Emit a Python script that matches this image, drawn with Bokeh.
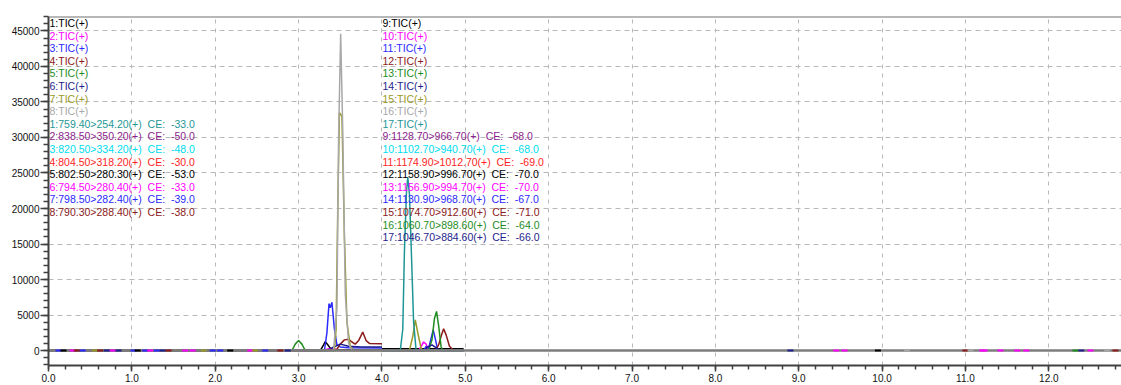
from bokeh.plotting import figure
from bokeh.models import ColumnDataSource, LabelSet, Label, FixedTicker, PrintfTickFormatter, Span
from bokeh.core.properties import value
from bokeh.embed import file_html
from bokeh.resources import INLINE

# ---------------- data ----------------
palette = ["#000000", "#ff00ff", "#2a2aff", "#8b1a1a", "#1e8c1e", "#1e1e8c",
           "#9a9a28", "#a8a8a8", "#1e9696", "#8c1e8c", "#00dcf0", "#ff1e1e"]

group_sizes = [8, 9]
tic_labels = ["%d:TIC(+)" % i for i in range(1, 18)]
mrm_q1 = [759.40, 838.50, 820.50, 804.50, 802.50, 794.50, 798.50, 790.30,
          1128.70, 1102.70, 1174.90, 1158.90, 1156.90, 1130.90, 1074.70, 1060.70, 1046.70]
mrm_q3 = [254.20, 350.20, 334.20, 318.20, 280.30, 280.40, 282.40, 288.40,
          966.70, 940.70, 1012.70, 996.70, 994.70, 968.70, 912.60, 898.60, 884.60]
mrm_ce = [-33.0, -50.0, -48.0, -30.0, -53.0, -33.0, -39.0, -38.0,
          -68.0, -68.0, -69.0, -70.0, -70.0, -67.0, -71.0, -64.0, -66.0]

# retention time (min) / intensity vertices of each trace
trace_t = [
    [0.0, 3.26, 3.30, 3.32, 3.35, 3.39, 3.45, 4.0],
    [0.0, 3.30, 3.36, 3.42, 3.48, 4.0],
    [0.0, 3.31, 3.34, 3.365, 3.38, 3.40, 3.43, 3.46, 3.50, 3.60, 4.0],
    [0.0, 3.45, 3.50, 3.55, 3.60, 3.64, 3.68, 3.72, 3.77, 3.81, 3.85, 4.0],
    [0.0, 2.92, 2.96, 3.00, 3.04, 3.08, 4.0],
    [0.0, 3.35, 3.42, 3.50, 3.60, 3.75, 4.0],
    [0.0, 3.43, 3.45, 3.47, 3.49, 3.52, 3.55, 3.58, 3.62, 3.66, 4.0],
    [0.0, 3.42, 3.46, 3.48, 3.505, 3.53, 3.56, 3.60, 3.64, 4.0],
    [4.0, 4.98],
    [4.0, 4.44, 4.47, 4.50, 4.53, 4.56, 4.98],
    [4.0, 4.50, 4.53, 4.56, 4.585, 4.615, 4.645, 4.67, 4.98],
    [4.0, 4.64, 4.68, 4.715, 4.74, 4.77, 4.81, 4.85, 4.95, 4.98],
    [4.0, 4.56, 4.60, 4.63, 4.655, 4.68, 4.71, 4.73, 4.98],
    [4.0, 4.50, 4.55, 4.60, 4.66, 4.70, 4.98],
    [4.0, 4.33, 4.37, 4.40, 4.43, 4.47, 4.49, 4.98],
    [4.0, 4.98],
    [4.0, 4.22, 4.25, 4.27, 4.295, 4.31, 4.33, 4.35, 4.38, 4.41, 4.98],
]
trace_y = [
    [0, 0, 800, 1250, 800, 200, 100, 100],
    [0, 0, 250, 300, 0, 0],
    [0, 0, 2500, 6600, 6000, 6800, 3000, 800, 500, 400, 350],
    [0, 0, 900, 1500, 1600, 1200, 900, 1400, 2600, 1400, 1000, 950],
    [0, 0, 900, 1400, 900, 0, 0],
    [0, 0, 500, 900, 600, 500, 500],
    [0, 0, 3000, 20000, 33500, 33000, 16000, 4000, 600, 0, 0],
    [0, 0, 6000, 30000, 44600, 31000, 8000, 1000, 0, 0],
    [250, 250],
    [0, 0, 600, 1200, 900, 0, 0],
    [0, 0, 600, 300, 1500, 2900, 1400, 0, 0],
    [0, 0, 800, 2200, 3050, 2200, 600, 150, 0, 0],
    [0, 0, 1500, 4500, 5500, 3500, 500, 0, 0],
    [0, 0, 500, 800, 300, 0, 0],
    [0, 0, 2000, 4300, 2500, 300, 0, 0],
    [0, 0],
    [0, 0, 3000, 14000, 22500, 24400, 22000, 15000, 4000, 0, 0],
]

# small baseline noise blips (time, palette index)
noise_t = [0.12, 0.18, 0.29, 0.34, 0.41, 0.56, 0.62, 0.70, 0.77, 0.84, 1.02, 1.07,
           1.16, 1.22, 1.30, 1.37, 1.44, 1.64, 1.73, 1.86, 1.97, 2.06, 2.18, 2.42,
           2.48, 2.60, 2.78, 2.87, 8.90, 9.45, 9.55, 9.95, 10.30, 11.00, 11.06,
           11.20, 11.23, 11.42, 11.62, 11.73, 12.32, 12.39, 12.50, 12.70, 12.80]
noise_c = [2, 0, 1, 3, 2, 6, 3, 5, 1, 5, 2, 0, 2, 1, 2, 5, 3, 1, 1, 6, 2, 2, 0, 1,
           6, 2, 3, 5, 5, 1, 1, 0, 7, 3, 7, 1, 1, 1, 1, 1, 4, 5, 1, 7, 3]

x_ticks = list(range(0, 13))
y_ticks = list(range(0, 45001, 5000))

# ---------------- figure ----------------
X_END = 12.872
Y_START, Y_END = -2110, 47040
p = figure(width=1121, height=385, x_range=(0, X_END), y_range=(Y_START, Y_END),
           output_backend="svg", toolbar_location=None,
           min_border_left=48, min_border_right=0, min_border_top=16, min_border_bottom=20)
p.outline_line_color = None
p.background_fill_color = "white"
p.border_fill_color = "white"

for ax in (p.xaxis[0], p.yaxis[0]):
    ax.axis_line_color = "#404040"
    ax.axis_line_width = 2
    ax.major_tick_line_color = "#404040"
    ax.minor_tick_line_color = "#404040"
    ax.major_tick_line_width = 1.5
    ax.minor_tick_line_width = 1.5
    ax.major_tick_in = 0
    ax.minor_tick_in = 0
    ax.major_label_text_font = "Liberation Sans"
    ax.major_label_text_font_size = "10px"
    ax.major_label_text_color = "#111111"

p.xaxis.ticker = FixedTicker(ticks=x_ticks,
                             minor_ticks=[i * 0.2 for i in range(0, 65)])
p.xaxis.formatter = PrintfTickFormatter(format="%.1f")
p.xaxis.major_tick_out = 6
p.xaxis.minor_tick_out = 4
p.xaxis.major_label_standoff = 2

p.yaxis.ticker = FixedTicker(ticks=y_ticks,
                             minor_ticks=list(range(-2000, 47001, 1000)))
p.yaxis.major_tick_out = 8
p.yaxis.minor_tick_out = 5
p.yaxis.major_label_standoff = 1

p.xgrid.grid_line_color = "#b8b8b8"
p.xgrid.grid_line_dash = "4 5"
p.ygrid.grid_line_color = "#b8b8b8"
p.ygrid.grid_line_dash = "5 4"

# traces
ci = []
for g, n in enumerate(group_sizes):
    ci += list(range(n))
for i in range(17):
    p.line(trace_t[i], trace_y[i], line_color=palette[ci[i]], line_width=1.5)

# baseline
p.hspan(y=[0], line_color="#7c7c7c", line_width=2.5)

# noise
p.scatter(noise_t, [0] * len(noise_t), marker="dash", size=6, line_width=2,
          line_color=[palette[c] for c in noise_c])

# top frame
p.add_layout(Span(location=Y_END, dimension="width", line_color="#707070", line_width=2))

# ---------------- channel legends ----------------
lx, ly, lt, lc = [], [], [], []
row_h = 12.6
start = 0
for g, n in enumerate(group_sizes):
    xcol = 1 if g == 0 else 334
    rows = []
    for k in range(n):
        rows.append((tic_labels[start + k], palette[k]))
    for k in range(n):
        j = start + k
        txt = "%d:%.2f>%.2f(+)\u00a0\u00a0CE:\u00a0\u00a0%.1f" % (j + 1, mrm_q1[j], mrm_q3[j], mrm_ce[j])
        rows.append((txt, palette[(n + k) % 12]))
    for r, (txt, col) in enumerate(rows):
        page_y = 22.5 + row_h * r
        lx.append(xcol)
        ly.append(365 - page_y)
        lt.append(txt)
        lc.append(col)
    start += n

src = ColumnDataSource(dict(x=lx, y=ly, text=lt, color=lc))
p.add_layout(LabelSet(x="x", y="y", text="text", source=src, x_units="screen", y_units="screen",
                      text_color="color", text_font=value("Liberation Sans"),
                      text_font_size="10.5px", text_baseline="middle", text_align="left"))

p.add_layout(Label(x=1067, y=-16, x_units="screen", y_units="screen", text="min",
                   text_font="Liberation Sans", text_font_size="10px",
                   text_baseline="middle", text_color="#111111"))

open("out.html", "w").write(file_html(p, INLINE))
